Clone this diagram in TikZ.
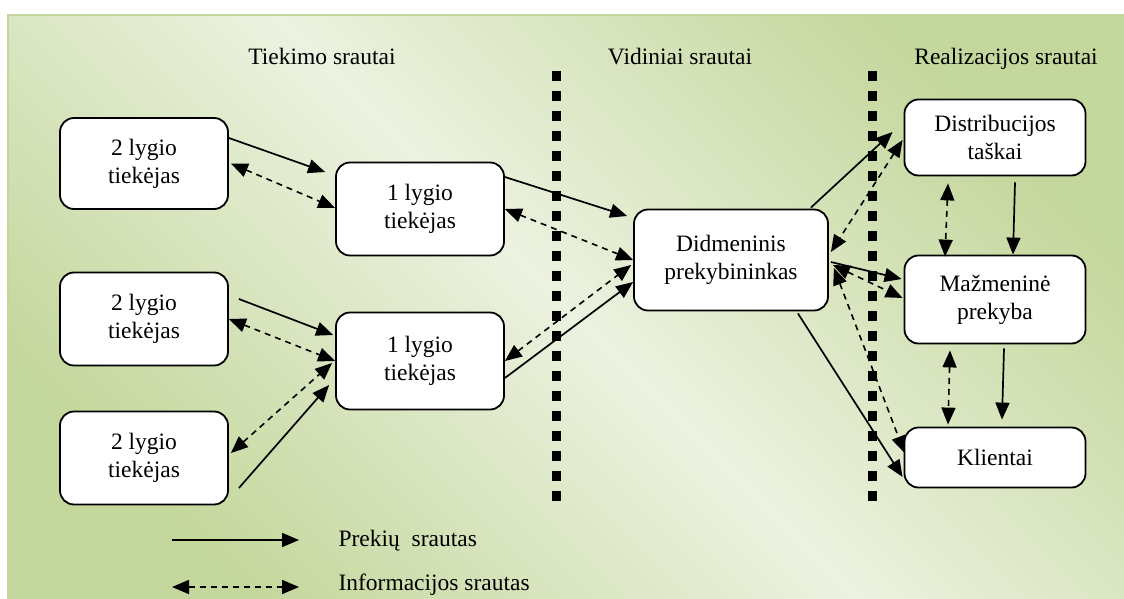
\documentclass[tikz,border=0pt]{standalone}
\usepackage{fontspec}
\setmainfont{Liberation Serif}
\usetikzlibrary{arrows.meta}
\definecolor{frameG}{RGB}{195,214,155}
\definecolor{bgG}{RGB}{196,215,156}
\definecolor{bgL}{RGB}{236,242,224}
\begin{document}
\begin{tikzpicture}[x=1pt,y=-1pt,
  box/.style={draw=black, line width=1.8, fill=white, rounded corners=14,
    align=center, inner sep=0, font=\fontsize{23.5}{28}\selectfont},
  heading/.style={anchor=base, font=\fontsize{23.5}{28}\selectfont},
  legendtext/.style={anchor=base west, font=\fontsize{23.5}{28}\selectfont},
  goods/.style={line width=1.7, -{Triangle[length=17pt,width=14pt]}},
  info/.style={line width=1.6, dash pattern=on 6pt off 5pt,
    {Triangle[length=17pt,width=14pt]}-{Triangle[length=17pt,width=14pt]}},
  divider/.style={line width=9, dash pattern=on 10pt off 10pt}]

\useasboundingbox (0,0) rectangle (1124,599);

% background panel
\shade[left color=bgG, right color=bgG, middle color=bgL, shading angle=-45]
  (8,15) rectangle (1130,605);
\draw[frameG, line width=2] (1130,15) -- (8,15) -- (8,605);

% headings
\node[heading] (hSupply) at (322,65) {Tiekimo srautai};
\node[heading] (hInner) at (680,65) {Vidiniai srautai};
\node[heading] (hSales) at (1006,65) {Realizacijos srautai};

% zone dividers
\draw[divider] (556,71) -- (556,505);
\draw[divider] (872,71) -- (872,505);

% supply side
\node[box, minimum width=168, minimum height=91] (A1) at (144,163.5) {2 lygio\\tiekėjas};
\node[box, minimum width=168, minimum height=93] (A2) at (144,319) {2 lygio\\tiekėjas};
\node[box, minimum width=168, minimum height=93] (A3) at (144,458) {2 lygio\\tiekėjas};
\node[box, minimum width=168, minimum height=93] (B1) at (420,209) {1 lygio\\tiekėjas};
\node[box, minimum width=168, minimum height=97] (B2) at (420,361) {1 lygio\\tiekėjas};

% wholesaler
\node[box, minimum width=194, minimum height=101] (C) at (731,260) {Didmeninis\\prekybininkas};

% sales side
\node[box, minimum width=181, minimum height=76] (D) at (995,137.5) {Distribucijos\\taškai};
\node[box, minimum width=181, minimum height=88] (M) at (995,299.5) {Mažmeninė\\prekyba};
\node[box, minimum width=181, minimum height=60] (K) at (995,457.5) {Klientai};

% level 2 -> level 1
\draw[goods] ([yshift=25.5]A1.east) -- ([xshift=-10,yshift=37]B1.west);
\draw[info]  ([xshift=2]A1.east) -- ([yshift=1]B1.west);
\draw[goods] ([xshift=10,yshift=20]A2.east) -- ([xshift=-2,yshift=26]B2.west);
\draw[info]  (A2.east) -- (B2.west);
\draw[info]  ([xshift=2,yshift=5]A3.east) -- ([xshift=-3,yshift=-2]B2.west);
\draw[goods] ([xshift=10,yshift=-30]A3.east) -- ([xshift=-6,yshift=-24]B2.west);

% level 1 -> wholesaler
\draw[goods] ([yshift=32]B1.east) -- ([xshift=-6,yshift=44]C.west);
\draw[info]  (B1.east) -- (C.west);
\draw[info]  (B2.east) -- ([xshift=-2,yshift=-5]C.west);
\draw[goods] ([yshift=-17]B2.east) -- ([yshift=-22]C.west);

% wholesaler -> sales side
\draw[goods] ([xshift=-18,yshift=1]C.north east) -- ([xshift=-11,yshift=5.5]D.west);
\draw[info]  ([xshift=-1,yshift=-2.5]D.west) -- ([xshift=2,yshift=8]C.east);
\draw[goods] ([xshift=2,yshift=-2]C.east) -- ([xshift=-2,yshift=20.5]M.west);
\draw[info]  ([xshift=4,yshift=-5]C.east) -- ([xshift=-1,yshift=1.5]M.west);
\draw[info]  ([xshift=5,yshift=-8]C.east) -- ([xshift=1,yshift=4.5]K.west);
\draw[goods] ([xshift=-31,yshift=-2]C.south east) -- ([xshift=-1,yshift=-19.5]K.west);

% between sales points
\draw[info]  ([xshift=-47,yshift=-7]D.south) -- ([xshift=-50,yshift=-2]M.north);
\draw[goods] ([xshift=20,yshift=-6]D.south) -- ([xshift=18,yshift=0]M.north);
\draw[info]  ([xshift=-45,yshift=-6]M.south) -- ([xshift=-47,yshift=2]K.north);
\draw[goods] ([xshift=9,yshift=-4]M.south) -- ([xshift=7,yshift=7]K.north);

% legend
\coordinate (lg1s) at (172,540);
\coordinate (lg1e) at (299,540);
\coordinate (lg2s) at (172,587);
\coordinate (lg2e) at (299,587);
\draw[goods] (lg1s) -- (lg1e);
\draw[info]  (lg2s) -- (lg2e);
\node[legendtext] (lgGoods) at (335,546) {Prekių\ \ srautas};
\node[legendtext] (lgInfo) at (335,590) {Informacijos srautas};

\end{tikzpicture}
\end{document}
